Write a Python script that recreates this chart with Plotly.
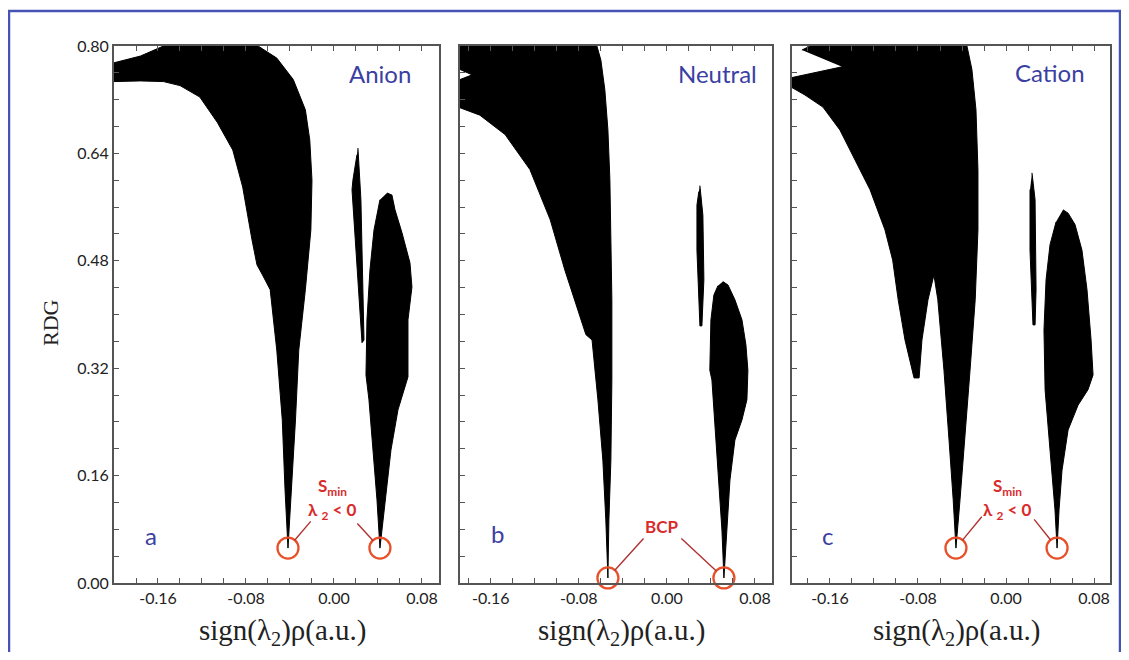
import plotly.graph_objects as go

# ---------------- data (data units) ----------------
# Panel a : Anion
anion_wing_x = [-0.200, -0.176, -0.155, -0.069, -0.052, -0.037, -0.026, -0.022, -0.020, -0.021, -0.026,
                -0.032, -0.035, -0.039, -0.0418, -0.0445, -0.047, -0.052, -0.058, -0.065, -0.070,
                -0.0745, -0.083, -0.092, -0.106, -0.122, -0.140, -0.155, -0.176, -0.200]
anion_wing_y = [0.775, 0.785, 0.800, 0.800, 0.782, 0.750, 0.705, 0.660, 0.600, 0.526, 0.437,
                0.347, 0.243, 0.139, 0.052, 0.139, 0.243, 0.347, 0.437, 0.459, 0.474,
                0.511, 0.590, 0.645, 0.686, 0.724, 0.741, 0.747, 0.748, 0.747]
anion_thin_x = [0.0218, 0.0245, 0.0273, 0.0255, 0.020, 0.0164, 0.0173, 0.0209]
anion_thin_y = [0.648, 0.571, 0.362, 0.358, 0.496, 0.586, 0.601, 0.638]
anion_lobe_x = [0.0482, 0.0527, 0.0555, 0.0618, 0.0691, 0.0709, 0.0673, 0.0673, 0.0645, 0.0582,
                0.0518, 0.0464, 0.0418, 0.0391, 0.0355, 0.0318, 0.0291, 0.030, 0.0327, 0.0364, 0.0418]
anion_lobe_y = [0.581, 0.578, 0.556, 0.522, 0.477, 0.441, 0.392, 0.307, 0.292, 0.258,
                0.198, 0.124, 0.052, 0.124, 0.198, 0.273, 0.310, 0.392, 0.466, 0.526, 0.571]

# Panel b : Neutral
neutral_wing_x = [-0.188, -0.0636, -0.060, -0.0564, -0.0536, -0.0518, -0.0509, -0.050, -0.050, -0.0509,
                  -0.0527, -0.0536, -0.0555, -0.0582, -0.0627, -0.068, -0.0736, -0.081, -0.0927,
                  -0.106, -0.1245, -0.147, -0.170, -0.188, -0.188, -0.177, -0.188]
neutral_wing_y = [0.800, 0.800, 0.779, 0.735, 0.675, 0.601, 0.511, 0.422, 0.302, 0.183,
                  0.094, 0.0075, 0.094, 0.183, 0.273, 0.362, 0.370, 0.407, 0.466,
                  0.541, 0.616, 0.668, 0.697, 0.708, 0.750, 0.757, 0.765]
neutral_thin_x = [0.030, 0.0327, 0.0336, 0.0318, 0.030, 0.0273, 0.0273, 0.029]
neutral_thin_y = [0.592, 0.548, 0.452, 0.383, 0.383, 0.496, 0.563, 0.583]
neutral_lobe_x = [0.0509, 0.0555, 0.0618, 0.0682, 0.0718, 0.0736, 0.0727, 0.0682, 0.0618, 0.0573,
                  0.0545, 0.0518, 0.050, 0.0464, 0.0409, 0.039, 0.040, 0.0427, 0.0464]
neutral_lobe_y = [0.449, 0.444, 0.422, 0.392, 0.355, 0.317, 0.273, 0.243, 0.213, 0.1535,
                  0.079, 0.0075, 0.079, 0.168, 0.3025, 0.317, 0.392, 0.429, 0.443]

# Panel c : Cation
cation_wing_x = [-0.1855, -0.178, -0.0355, -0.031, -0.0273, -0.0255, -0.0255, -0.028, -0.0327, -0.0373,
                 -0.0418, -0.0455, -0.048, -0.0518, -0.0564, -0.062, -0.0655, -0.0709, -0.0764,
                 -0.079, -0.0836, -0.0918, -0.098, -0.103, -0.110, -0.1236, -0.137, -0.151,
                 -0.1664, -0.1827, -0.1945, -0.1945, -0.149]
cation_wing_y = [0.794, 0.800, 0.800, 0.765, 0.705, 0.615, 0.526, 0.422, 0.317, 0.213,
                 0.124, 0.052, 0.124, 0.213, 0.317, 0.422, 0.459, 0.422, 0.362,
                 0.3055, 0.3055, 0.362, 0.422, 0.481, 0.526, 0.586, 0.630, 0.675,
                 0.709, 0.727, 0.738, 0.753, 0.769]
cation_thin_x = [0.0236, 0.0264, 0.0273, 0.0264, 0.0245, 0.0218, 0.0218]
cation_thin_y = [0.611, 0.571, 0.437, 0.3845, 0.3845, 0.496, 0.586]
cation_lobe_x = [0.0518, 0.0564, 0.0627, 0.069, 0.0736, 0.0773, 0.0791, 0.0745, 0.0655, 0.0564,
                 0.0509, 0.0482, 0.0464, 0.0445, 0.040, 0.0355, 0.0345, 0.0364, 0.040, 0.0455]
cation_lobe_y = [0.556, 0.551, 0.534, 0.496, 0.437, 0.362, 0.310, 0.288, 0.265, 0.228,
                 0.168, 0.109, 0.052, 0.109, 0.198, 0.288, 0.377, 0.452, 0.504, 0.538]

# critical points marked by circles
anion_cp_x = [-0.0418, 0.0418]
anion_cp_y = [0.052, 0.052]
neutral_cp_x = [-0.0536, 0.0518]
neutral_cp_y = [0.0075, 0.0075]
cation_cp_x = [-0.0455, 0.0464]
cation_cp_y = [0.052, 0.052]

panel_names = ["Anion", "Neutral", "Cation"]
panel_letters = ["a", "b", "c"]
x_ticks = [-0.16, -0.08, 0.00, 0.08]
x_ticklabels = ["-0.16", "-0.08", "0.00", "0.08"]
y_ticks = [0.00, 0.16, 0.32, 0.48, 0.64, 0.80]
y_ticklabels = ["0.00", "0.16", "0.32", "0.48", "0.64", "0.80"]

# ---------------- layout geometry ----------------
# page body has an 8px margin; the figure fills the rest of the 1129x660 window
OFF = 8
W, H = 1129 - 2 * OFF, 660 - 2 * OFF
def px(v):
    return (v - OFF) / W
def py(v):
    return 1 - (v - OFF) / H

x_domains = [[px(114), px(439)], [px(460), px(772)], [px(792), px(1110)]]
x_ranges = [[-0.200, 0.0955], [-0.188, 0.0955], [-0.1945, 0.0945]]
y_domain = [py(583), py(46)]

fig = go.Figure()

shapes_per_panel = [
    [(anion_wing_x, anion_wing_y), (anion_thin_x, anion_thin_y), (anion_lobe_x, anion_lobe_y)],
    [(neutral_wing_x, neutral_wing_y), (neutral_thin_x, neutral_thin_y), (neutral_lobe_x, neutral_lobe_y)],
    [(cation_wing_x, cation_wing_y), (cation_thin_x, cation_thin_y), (cation_lobe_x, cation_lobe_y)],
]
cps = [(anion_cp_x, anion_cp_y), (neutral_cp_x, neutral_cp_y), (cation_cp_x, cation_cp_y)]

for i in range(3):
    xa = "x" if i == 0 else f"x{i+1}"
    ya = "y" if i == 0 else f"y{i+1}"
    for sx, sy in shapes_per_panel[i]:
        fig.add_trace(go.Scatter(x=sx, y=sy, mode="lines", fill="toself",
                                 fillcolor="black", line=dict(color="black", width=1),
                                 xaxis=xa, yaxis=ya, showlegend=False, hoverinfo="skip"))
    fig.add_trace(go.Scatter(x=cps[i][0], y=cps[i][1], mode="markers",
                             marker=dict(symbol="circle-open", size=21,
                                         line=dict(color="#e8502a", width=2.3), color="#e8502a"),
                             xaxis=xa, yaxis=ya, showlegend=False, hoverinfo="skip",
                             cliponaxis=False))

axis_common = dict(showline=True, linecolor="#555555", linewidth=2, ticks="inside",
                   ticklen=5, tickcolor="#555555", tickwidth=1.2, showgrid=False, zeroline=False,
                   tickfont=dict(family="Lato, Open Sans, sans-serif", size=16, color="#222222"))

layout = dict(width=W, height=H, margin=dict(l=0, r=0, t=0, b=0, pad=0, autoexpand=False),
              autosize=False, paper_bgcolor="white", plot_bgcolor="white", showlegend=False)
for i in range(3):
    suffix = "" if i == 0 else str(i + 1)
    layout["xaxis" + suffix] = dict(axis_common, domain=x_domains[i], range=x_ranges[i],
                                    anchor="y" + suffix, mirror="ticks", automargin=False,
                                    tickvals=x_ticks, ticktext=x_ticklabels,
                                    minor=dict(dtick=0.02, tick0=0, ticks="inside", ticklen=5,
                                               tickcolor="#555555", tickwidth=1.2))
    layout["yaxis" + suffix] = dict(axis_common, domain=y_domain, range=[0, 0.8],
                                    anchor="x" + suffix, mirror=True, automargin=False,
                                    tickvals=y_ticks, ticktext=y_ticklabels,
                                    showticklabels=(i == 0),
                                    minor=dict(dtick=0.04, tick0=0, ticks="inside", ticklen=5,
                                               tickcolor="#555555", tickwidth=1.2))
fig.update_layout(**layout)

blue = "#3b3fa3"
red = "#d92b2b"
ann = []
name_pos = [(0.818, 0.948), (0.825, 0.948), (0.811, 0.950)]
letter_pos = [(0.114, 0.089), (0.119, 0.093), (0.113, 0.089)]
C = dict(xanchor="center", yanchor="middle", showarrow=False)
for i in range(3):
    suffix = "" if i == 0 else str(i + 1)
    ann.append(dict(C, text=panel_names[i], xref=f"x{suffix} domain", yref=f"y{suffix} domain",
                    x=name_pos[i][0], y=name_pos[i][1],
                    font=dict(family="Lato, Open Sans, sans-serif", size=24, color=blue)))
    ann.append(dict(C, text=panel_letters[i], xref=f"x{suffix} domain", yref=f"y{suffix} domain",
                    x=letter_pos[i][0], y=letter_pos[i][1],
                    font=dict(family="Lato, Open Sans, sans-serif", size=24, color=blue)))
    cx = (x_domains[i][0] + x_domains[i][1]) / 2
    ann.append(dict(C, text="sign(λ<sub>2</sub>)ρ(a.u.)", xref="paper", yref="paper",
                    x=cx + 6 / W, y=py(632),
                    font=dict(family="Liberation Serif, Times New Roman, serif", size=29,
                              color="#222222")))

ann.append(dict(C, text="RDG", xref="paper", yref="paper", x=px(51), y=py(323), textangle=-90,
                font=dict(family="Liberation Serif, Times New Roman, serif", size=22, color="#222222")))

# red labels
lab_font = dict(family="Lato, Open Sans, sans-serif", size=16, color=red)
for suffix, xs in [("", -0.0015), ("3", 0.001)]:
    ann.append(dict(C, text="<b>S<sub>min</sub></b>", xref="x" + suffix, yref="y" + suffix,
                    x=xs, y=0.143, font=dict(lab_font, size=17)))
    ann.append(dict(C, text="<b>λ <sub>2</sub> < 0</b>", xref="x" + suffix, yref="y" + suffix,
                    x=xs, y=0.108, font=dict(lab_font, size=17)))
ann.append(dict(C, text="<b>BCP</b>", xref="x2", yref="y2", x=-0.0045, y=0.0835,
                font=dict(lab_font, size=17)))

# leader lines from labels to circled points
leaders = [
    ("", anion_cp_x[0], anion_cp_y[0], -0.020, 0.094),
    ("", anion_cp_x[1], anion_cp_y[1], 0.020, 0.091),
    ("2", neutral_cp_x[0], neutral_cp_y[0], -0.020, 0.0685),
    ("2", neutral_cp_x[1], neutral_cp_y[1], 0.0118, 0.0685),
    ("3", cation_cp_x[0], cation_cp_y[0], -0.0209, 0.101),
    ("3", cation_cp_x[1], cation_cp_y[1], 0.0245, 0.097),
]
for suffix, x0, y0, x1, y1 in leaders:
    ann.append(dict(text="", xref="x" + suffix, yref="y" + suffix, x=x0, y=y0,
                    axref="x" + suffix, ayref="y" + suffix, ax=x1, ay=y1,
                    showarrow=True, arrowhead=0, arrowwidth=1.4, arrowcolor="#b23232",
                    standoff=10, startstandoff=0))

fig.update_layout(annotations=ann)

# outer blue frame
fig.add_shape(type="rect", xref="paper", yref="paper", x0=px(9), x1=px(1120), y0=py(656), y1=py(11),
              line=dict(color="#4653b5", width=2.5), fillcolor="rgba(0,0,0,0)", layer="below")

fig.write_html("out.html")
